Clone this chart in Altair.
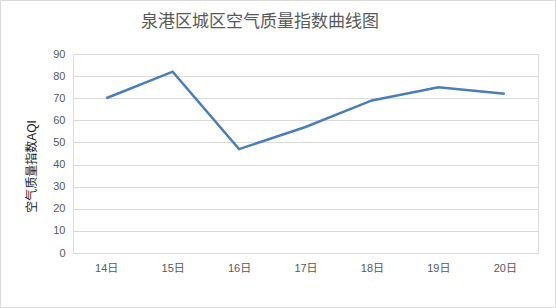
import altair as alt
import pandas as pd

days = ["14日", "15日", "16日", "17日", "18日", "19日", "20日"]
aqi = [70, 82, 47, 57, 69, 75, 72]
title_text = ["泉港区城区空气质量指数曲线图"]

df = pd.DataFrame({"day": days, "aqi": aqi})
tdf = pd.DataFrame({"t": title_text})

W, H = 465, 199
L, T = 73, 54

line = alt.Chart(df).mark_line(color="#4a7ebb", strokeWidth=2.5).encode(
    x=alt.X("day:N", sort=days, title=None,
            scale=alt.Scale(type="point", padding=0.5),
            axis=alt.Axis(labelAngle=0, domain=False, ticks=False, grid=False,
                          labelPadding=9, labelFontSize=11, labelColor="#595959")),
    y=alt.Y("aqi:Q", title="空气质量指数AQI",
            scale=alt.Scale(domain=[0, 90], nice=False),
            axis=alt.Axis(values=list(range(0, 100, 10)), domain=False, ticks=False,
                          gridColor="#d9d9d9", labelPadding=8, labelFontSize=11,
                          labelColor="#595959", titleFontSize=12, titleColor="#222222",
                          titleFontWeight="normal", titlePadding=14, titleY=112,
                          titleAlign="center")),
)

border = alt.Chart(tdf).mark_rect(fill=None, stroke="#d9d9d9", strokeWidth=1).encode(
    x=alt.value(-L + 0.5), x2=alt.value(556 - L - 0.5),
    y=alt.value(-T + 0.5), y2=alt.value(308 - T - 0.5),
)

title = alt.Chart(tdf).mark_text(fontSize=17, font="Noto Sans CJK SC", color="#595959",
                                 align="center", baseline="middle").encode(
    x=alt.value(260 - L), y=alt.value(22 - T), text="t:N"
)

chart = alt.layer(border, line, title).properties(
    width=W, height=H,
    padding={"left": L, "top": T, "right": 556 - L - W, "bottom": 308 - T - H},
    autosize=alt.AutoSizeParams(type="none"),
).configure_view(stroke=None).configure(font="Liberation Sans, Noto Sans CJK SC")

chart.save("out.html", embed_options={"renderer": "svg", "actions": False})
